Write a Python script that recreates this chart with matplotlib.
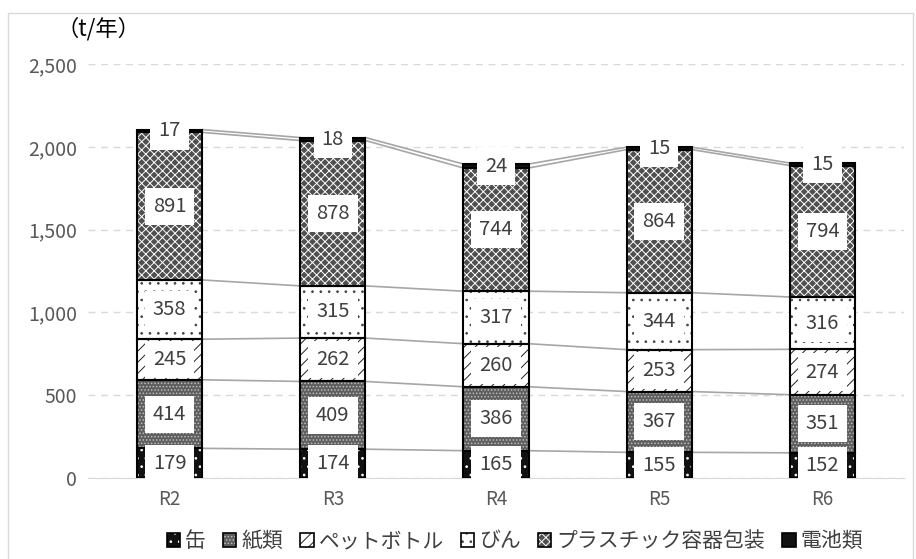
import matplotlib
matplotlib.use("Agg")
import matplotlib.pyplot as plt
import matplotlib.patches as mpatches
import numpy as np

plt.rcParams['font.family'] = ['Noto Sans CJK JP', 'DejaVu Sans']
plt.rcParams['hatch.linewidth'] = 0.7

# years (令和) and tonnage per category
years = ['R2', 'R3', 'R4', 'R5', 'R6']
categories = ['缶', '紙類', 'ペットボトル', 'びん', 'プラスチック容器包装', '電池類']
kan = [179, 174, 165, 155, 152]
kami = [414, 409, 386, 367, 351]
pet = [245, 262, 260, 253, 274]
bin_ = [358, 315, 317, 344, 316]
pla = [891, 878, 744, 864, 794]
denchi = [17, 18, 24, 15, 15]
series = [kan, kami, pet, bin_, pla, denchi]

# face colour, hatch colour, hatch pattern for each category
styles = [
    ('#111111', 'white', '..'),
    ('#5e5e5e', '#bdbdbd', '.....'),
    ('white', '#222222', '///'),
    ('white', '#444444', '..'),
    ('#4f4f4f', 'white', 'xxxx'),
    ('#111111', 'white', ''),
]

fig = plt.figure(figsize=(9.16, 5.59), dpi=100)
ax = fig.add_axes([88 / 916, 81 / 559, 816 / 916, 414 / 559])

x = np.arange(len(years))
width = 0.4
bottom = np.zeros(len(years))
tops = []
for vals, (fc, hc, hatch) in zip(series, styles):
    vals = np.array(vals, dtype=float)
    # hatch fill first, then the black outline on top
    ax.bar(x, vals, width, bottom=bottom, color=fc, edgecolor=hc,
           hatch=hatch, linewidth=0, zorder=2)
    ax.bar(x, vals, width, bottom=bottom, fill=False, edgecolor='black',
           linewidth=1.5, zorder=3)
    for xi, b, v in zip(x, bottom, vals):
        ax.text(xi, b + v / 2, f'{int(v)}', ha='center', va='center',
                fontsize=14.5, color='#404040', zorder=5,
                bbox=dict(boxstyle='square,pad=0.4', fc='white', ec='none'))
    bottom = bottom + vals
    tops.append(bottom.copy())

# series lines between neighbouring bars
for t in tops:
    for i in range(len(x) - 1):
        ax.plot([x[i] + width / 2, x[i + 1] - width / 2], [t[i], t[i + 1]],
                color='#a6a6a6', linewidth=1.2, zorder=1)

ax.set_xlim(-0.5, len(years) - 0.5)
ax.set_ylim(0, 2500)
ax.set_yticks(np.arange(0, 2501, 500))
ax.set_yticklabels([f'{v:,}' for v in range(0, 2501, 500)])
ax.set_xticks(x)
ax.set_xticklabels(years)
ax.tick_params(axis='both', length=0, colors='#595959')
ax.tick_params(axis='y', labelsize=14, pad=8)
ax.tick_params(axis='x', labelsize=13.5, pad=8)
for s in ['top', 'right', 'left']:
    ax.spines[s].set_visible(False)
ax.spines['bottom'].set_color('#d9d9d9')
ax.yaxis.grid(True, linestyle=(0, (5, 4)), color='#d9d9d9', linewidth=1)
ax.set_axisbelow(True)

fig.text(98 / 916, 1 - 29 / 559, '（t/年）', ha='center', va='center',
         fontsize=16, color='black')

# legend keys: hatch patch with a black outline over it
handles = [(mpatches.Patch(facecolor=fc, edgecolor=hc, hatch=hatch, linewidth=0),
            mpatches.Patch(fill=False, edgecolor='black', linewidth=1.2))
           for fc, hc, hatch in styles]
fig.legend(handles, categories, loc='center', ncol=6,
           bbox_to_anchor=(515 / 916, 1 - 541 / 559), frameon=False,
           fontsize=15, handlelength=0.65, handleheight=0.65,
           handletextpad=0.25, columnspacing=0.8, labelcolor='#404040')

# chart frame
fig.patches.append(mpatches.Rectangle((8 / 916, -0.05), 905 / 916, 1.05 - 13 / 559,
                                      transform=fig.transFigure, fill=False,
                                      edgecolor='#d9d9d9', linewidth=1))

fig.savefig('out.png', dpi=100)
